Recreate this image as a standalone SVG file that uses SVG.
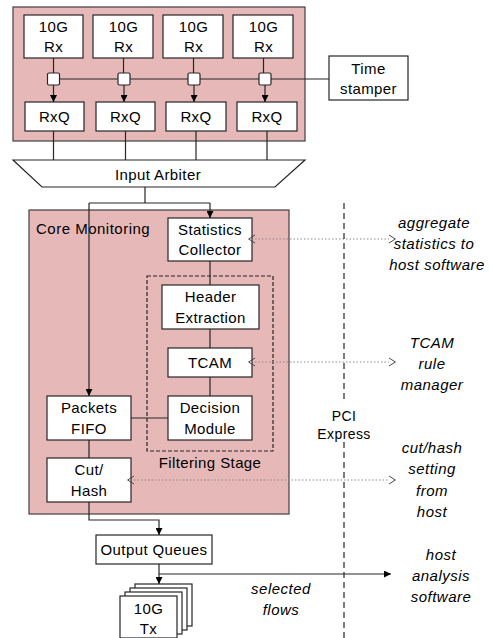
<svg xmlns="http://www.w3.org/2000/svg" width="489" height="638" viewBox="0 0 489 638">
<defs>
<style>
.pink{fill:#e6b9b8;stroke:#404040;stroke-width:1.2}
.box{fill:#fff;stroke:#262626;stroke-width:1.2}
.ln{fill:none;stroke:#262626;stroke-width:1.2}
.dot{fill:none;stroke:#8c8c8c;stroke-width:1.2;stroke-dasharray:1.5 2}
.t{font-family:"Liberation Sans",Arial,sans-serif;font-size:15px;letter-spacing:0.4px;fill:#000;text-anchor:middle}
.i{font-family:"Liberation Sans",Arial,sans-serif;font-size:15px;font-style:italic;letter-spacing:0.5px;fill:#000;text-anchor:middle}
</style>
<marker id="ah" viewBox="0 0 10 10" refX="10" refY="5" markerWidth="7" markerHeight="7" markerUnits="userSpaceOnUse" orient="auto">
<path d="M0,0 L10,5 L0,10 z" fill="#000"/>
</marker>
<marker id="oh" viewBox="0 0 10 12" refX="1" refY="6" markerWidth="8" markerHeight="10" markerUnits="userSpaceOnUse" orient="auto-start-reverse">
<path d="M1,1 L9,6 L1,11" fill="none" stroke="#404040" stroke-width="1.2"/>
</marker>
</defs>
<rect width="489" height="638" fill="#fff"/>

<g id="rx-block">
<rect class="pink" x="13" y="7" width="292" height="134"/>
</g>
<g id="rx1"><rect class="box" x="24" y="15" width="59" height="43"/><text class="t" x="53.5" y="32">10G</text><text class="t" x="53.5" y="52">Rx</text></g>
<g id="rx2"><rect class="box" x="93" y="15" width="60" height="43"/><text class="t" x="123.5" y="32">10G</text><text class="t" x="123.5" y="52">Rx</text></g>
<g id="rx3"><rect class="box" x="163" y="15" width="60" height="43"/><text class="t" x="193.5" y="32">10G</text><text class="t" x="193.5" y="52">Rx</text></g>
<g id="rx4"><rect class="box" x="233" y="15" width="60" height="43"/><text class="t" x="263.5" y="32">10G</text><text class="t" x="263.5" y="52">Rx</text></g>

<g id="rxq1"><rect class="box" x="25" y="102" width="59" height="29"/><text class="t" x="54.5" y="122">RxQ</text></g>
<g id="rxq2"><rect class="box" x="96" y="102" width="59" height="29"/><text class="t" x="125.5" y="122">RxQ</text></g>
<g id="rxq3"><rect class="box" x="166" y="102" width="60" height="29"/><text class="t" x="196" y="122">RxQ</text></g>
<g id="rxq4"><rect class="box" x="237" y="102" width="60" height="29"/><text class="t" x="267" y="122">RxQ</text></g>

<g id="time-stamper"><rect class="box" x="329" y="56" width="79" height="44"/><text class="t" x="368.5" y="74">Time</text><text class="t" x="368.5" y="94">stamper</text></g>

<g id="input-arbiter"><path class="box" d="M13,160 L305,160 L275,187 L42,187 z"/><text class="t" x="158" y="180">Input Arbiter</text></g>

<g id="core-monitoring"><rect class="pink" x="29" y="210" width="260" height="304"/><text class="t" x="36" y="234" style="text-anchor:start;letter-spacing:0.5px">Core Monitoring</text></g>

<g id="filtering-stage"><rect x="147" y="276" width="126" height="175" fill="none" stroke="#262626" stroke-width="1.2" stroke-dasharray="4 2"/><text class="t" x="210" y="468">Filtering Stage</text></g>

<g id="stats"><rect class="box" x="168" y="218" width="84" height="43"/><text class="t" x="210" y="235">Statistics</text><text class="t" x="210" y="255">Collector</text></g>
<g id="header"><rect class="box" x="162" y="285" width="97" height="44"/><text class="t" x="210.5" y="302">Header</text><text class="t" x="210.5" y="323">Extraction</text></g>
<g id="tcam"><rect class="box" x="168" y="348" width="84" height="29"/><text class="t" x="210" y="368">TCAM</text></g>
<g id="decision"><rect class="box" x="168" y="396" width="84" height="44"/><text class="t" x="210" y="413">Decision</text><text class="t" x="210" y="434">Module</text></g>
<g id="fifo"><rect class="box" x="47" y="396" width="84" height="44"/><text class="t" x="89" y="413">Packets</text><text class="t" x="89" y="434">FIFO</text></g>
<g id="cuthash"><rect class="box" x="47" y="458" width="84" height="44"/><text class="t" x="89" y="475">Cut/</text><text class="t" x="89" y="496">Hash</text></g>

<g id="output-queues"><rect class="box" x="96" y="535" width="116" height="29"/><text class="t" x="154" y="555">Output Queues</text></g>

<g id="tx">
<rect class="box" x="135" y="584" width="57" height="42"/>
<rect class="box" x="130" y="588" width="57" height="42"/>
<rect class="box" x="125" y="592" width="57" height="42"/>
<rect class="box" x="120" y="596" width="57" height="42"/>
<text class="t" x="148.5" y="614">10G</text><text class="t" x="148.5" y="634">Tx</text>
</g>

<g id="connectors">
<path class="ln" d="M53.5,58 V73 M123.5,58 V73 M193.5,58 V73 M263.5,58 V73"/>
<path class="ln" d="M59,79 H329"/>
<path class="ln" d="M53.5,85 V102" marker-end="url(#ah)"/>
<path class="ln" d="M124,85 V102" marker-end="url(#ah)"/>
<path class="ln" d="M194,85 V102" marker-end="url(#ah)"/>
<path class="ln" d="M265,85 V102" marker-end="url(#ah)"/>
<rect class="box" x="47.5" y="73" width="12" height="12" rx="1.5"/>
<rect class="box" x="118" y="73" width="12" height="12" rx="1.5"/>
<rect class="box" x="188" y="73" width="12" height="12" rx="1.5"/>
<rect class="box" x="259" y="73" width="12" height="12" rx="1.5"/>
<path class="ln" d="M53.5,131 V160 M125.5,131 V160 M196,131 V160 M267,131 V160"/>
<path class="ln" d="M145,187 V203 M89,203 H210"/>
<path class="ln" d="M210,203 V218" marker-end="url(#ah)"/>
<path class="ln" d="M89,203 V396" marker-end="url(#ah)"/>
<path class="ln" d="M210,261 V285 M210,329 V348 M210,377 V396 M131,418 H168 M89,440 V458"/>
<path class="ln" d="M89,502 V520 H159 V535" marker-end="url(#ah)"/>
<path class="ln" d="M159,564 V584" marker-end="url(#ah)"/>
<path class="ln" d="M159,574 H391" marker-end="url(#ah)"/>
<path class="dot" d="M255,239 H389" marker-start="url(#oh)" marker-end="url(#oh)"/>
<path class="dot" d="M255,362 H389" marker-start="url(#oh)" marker-end="url(#oh)"/>
<path class="dot" d="M134,480 H389" marker-start="url(#oh)" marker-end="url(#oh)"/>
<path d="M344,203 V402 M344,442 V638" fill="none" stroke="#262626" stroke-width="1.2" stroke-dasharray="6 4"/>
</g>

<g id="labels">
<text class="t" x="344" y="421" style="font-size:14px">PCI</text>
<text class="t" x="344" y="439" style="font-size:14px">Express</text>
<text class="i" x="434" y="228">aggregate</text>
<text class="i" x="434" y="249">statistics to</text>
<text class="i" x="437" y="270">host software</text>
<text class="i" x="432" y="348">TCAM</text>
<text class="i" x="432" y="369">rule</text>
<text class="i" x="432" y="390">manager</text>
<text class="i" x="432" y="453">cut/hash</text>
<text class="i" x="432" y="474">setting</text>
<text class="i" x="432" y="496">from</text>
<text class="i" x="432" y="517">host</text>
<text class="i" x="441" y="560">host</text>
<text class="i" x="441" y="581">analysis</text>
<text class="i" x="441" y="602">software</text>
<text class="i" x="281" y="594">selected</text>
<text class="i" x="281" y="615">flows</text>
</g>
</svg>
